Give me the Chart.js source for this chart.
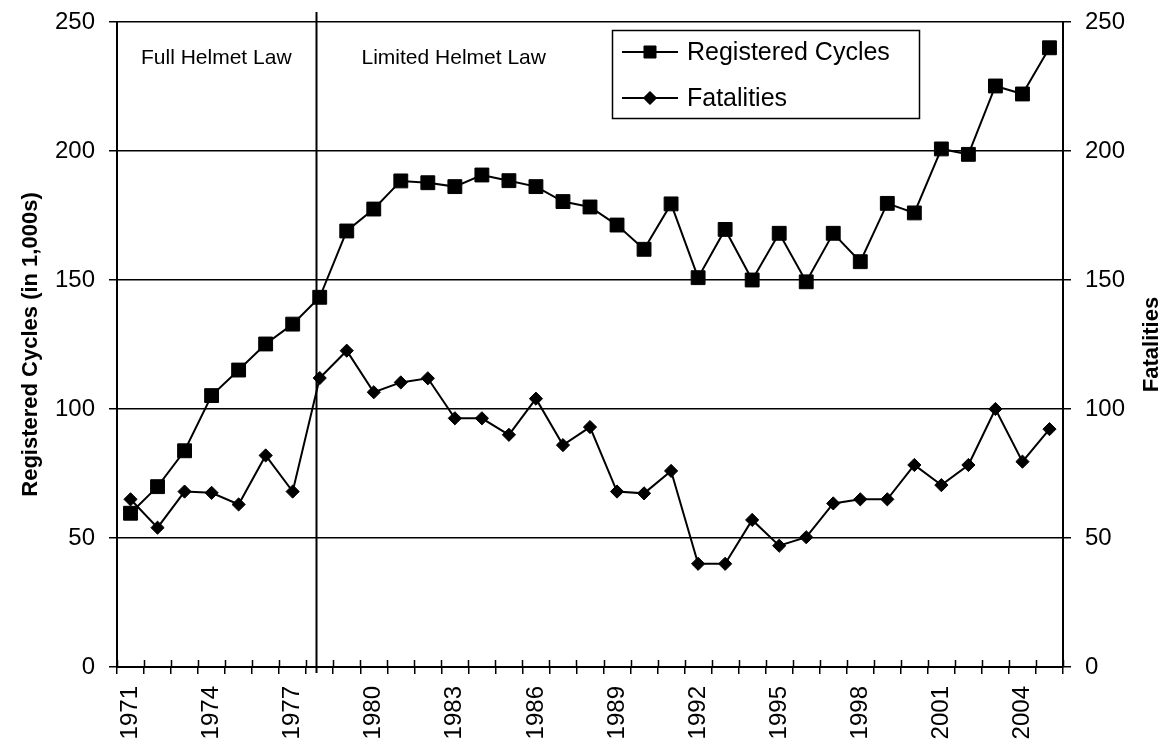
<!DOCTYPE html>
<html lang="en">
<head>
<meta charset="UTF-8">
<title>Registered Cycles and Fatalities</title>
<script src="https://cdn.jsdelivr.net/npm/chart.js@4.4.0/dist/chart.umd.min.js"></script>
<style>
  * { margin:0; padding:0; box-sizing:border-box; }
  body { background:#fff; width:1167px; height:745px; overflow:hidden; }
  #chart { display:block; }
</style>
</head>
<body>
<canvas id="chart" width="1167" height="745"></canvas>

<script>
const years = ['1971','1972','1973','1974','1975','1976','1977','1978','1979','1980',
  '1981','1982','1983','1984','1985','1986','1987','1988','1989','1990',
  '1991','1992','1993','1994','1995','1996','1997','1998','1999','2000',
  '2001','2002','2003','2004','2005'];

// registered cycles, in 1,000s
const cycles = [59.6, 69.9, 83.8, 105.2, 115.1, 125.2, 132.9, 143.3, 169, 177.5,
  188.4, 187.7, 186.2, 190.7, 188.5, 186.2, 180.4, 178.3, 171.3, 161.9,
  179.5, 150.9, 169.6, 150, 168.1, 149.3, 168.1, 157.1, 179.7, 176,
  200.8, 198.7, 225.2, 222.1, 240];

const fatalities = [65, 54, 68, 67.5, 63, 82, 68, 112, 122.6, 106.5,
  110.3, 111.9, 96.4, 96.4, 90, 104, 86, 93, 68, 67.3,
  76, 40, 40, 57, 47, 50.3, 63.4, 65, 65, 78.3,
  70.5, 78.3, 100, 79.6, 92.2];

const yTicks = [0, 50, 100, 150, 200, 250];
const lawChange = 6.88;   // helmet law changed in 1978 (category units)

const FONT = "'Liberation Sans', Arial, sans-serif";

// law labels, divider line, legend box, right axis title
const extras = {
  id: 'extras',
  beforeDatasetsDraw(chart) {
    const { ctx, chartArea: a, scales: { x } } = chart;
    const lx = Math.round(x.getPixelForValue(lawChange)) + 0.5;
    ctx.save();
    ctx.strokeStyle = '#000';
    ctx.lineWidth = 2;
    ctx.beginPath();
    ctx.moveTo(lx, a.top - 10);
    ctx.lineTo(lx, a.bottom + 6);
    ctx.stroke();

    // small tick marks above the category axis
    const step = x.width / years.length;
    ctx.lineWidth = 1.5;
    ctx.beginPath();
    for (let i = 0; i <= years.length; i++) {
      const tx = Math.round(x.left + i * step) + 0.5;
      ctx.moveTo(tx, a.bottom - 7);
      ctx.lineTo(tx, a.bottom);
    }
    ctx.stroke();

    ctx.fillStyle = '#000';
    ctx.font = '21px ' + FONT;
    ctx.textBaseline = 'middle';
    ctx.textAlign = 'left';
    ctx.fillText('Full Helmet Law', a.left + 24, a.top + 36);
    ctx.fillText('Limited Helmet Law', lx + 45, a.top + 36);
    ctx.restore();
  },
  afterDraw(chart) {
    const { ctx } = chart;
    ctx.save();
    // legend
    const bx = 612.5, by = 30.5, bw = 307, bh = 88;
    ctx.fillStyle = '#fff';
    ctx.fillRect(bx, by, bw, bh);
    ctx.strokeStyle = '#000';
    ctx.lineWidth = 1.5;
    ctx.strokeRect(bx, by, bw, bh);

    const rows = [
      { label: 'Registered Cycles', style: 'rect', r: 8.5, y: 52 },
      { label: 'Fatalities', style: 'rectRot', r: 6.5, y: 98 }
    ];
    ctx.font = '25px ' + FONT;
    ctx.textBaseline = 'middle';
    ctx.textAlign = 'left';
    rows.forEach(row => {
      ctx.strokeStyle = '#000';
      ctx.lineWidth = 1.8;
      ctx.beginPath();
      ctx.moveTo(622, row.y);
      ctx.lineTo(678, row.y);
      ctx.stroke();
      ctx.fillStyle = '#000';
      ctx.lineWidth = 1;
      Chart.helpers.drawPoint(ctx, { pointStyle: row.style, radius: row.r, borderWidth: 1, rotation: 0 }, 650, row.y);
      ctx.fill();
      ctx.fillText(row.label, 687, row.y + 1);
    });

    // right axis title, reading bottom to top
    const y1 = chart.scales.y1;
    ctx.translate(1152, (y1.top + y1.bottom) / 2);
    ctx.rotate(-Math.PI / 2);
    ctx.font = 'bold 22px ' + FONT;
    ctx.textAlign = 'center';
    ctx.fillStyle = '#000';
    ctx.fillText('Fatalities', 0, 0);
    ctx.restore();
  }
};

new Chart(document.getElementById('chart').getContext('2d'), {
  type: 'line',
  data: {
    labels: years,
    datasets: [
      {
        label: 'Registered Cycles',
        data: cycles,
        yAxisID: 'y',
        borderColor: '#000',
        backgroundColor: '#000',
        borderWidth: 2,
        pointStyle: 'rect',
        pointRadius: 9.8,
        pointBorderWidth: 1,
        tension: 0
      },
      {
        label: 'Fatalities',
        data: fatalities,
        yAxisID: 'y1',
        borderColor: '#000',
        backgroundColor: '#000',
        borderWidth: 2,
        pointStyle: 'rectRot',
        pointRadius: 6.6,
        pointBorderWidth: 1,
        tension: 0
      }
    ]
  },
  options: {
    responsive: false,
    animation: false,
    devicePixelRatio: 1,
    layout: { padding: { top: 22, left: 0, right: 0, bottom: 0 } },
    plugins: { legend: { display: false }, tooltip: { enabled: false } },
    scales: {
      x: {
        offset: true,
        grid: { offset: true, drawOnChartArea: false, color: '#000', lineWidth: 1.5, tickLength: 7 },
        border: { color: '#000', width: 2 },
        ticks: {
          autoSkip: false, minRotation: 90, maxRotation: 90, padding: 12,
          color: '#000', font: { family: FONT, size: 24 },
          callback(value, index) { return index % 3 === 0 ? years[index] : ''; }
        },
        afterFit(scale) { scale.height = 78; scale.paddingLeft = 0; scale.paddingRight = 0; }
      },
      y: {
        position: 'left', min: 0, max: 250,
        afterBuildTicks(scale) { scale.ticks = yTicks.map(v => ({ value: v })); },
        grid: { color: '#000', lineWidth: 1.5, tickLength: 8 },
        border: { color: '#000', width: 2 },
        ticks: { color: '#000', padding: 14, font: { family: FONT, size: 24 } },
        title: { display: true, text: 'Registered Cycles (in 1,000s)', color: '#000',
          font: { family: FONT, size: 22, weight: 'bold' }, padding: { top: 18, bottom: 0 } },
        afterFit(scale) { scale.width = 117; scale.paddingTop = 0; scale.paddingBottom = 0; }
      },
      y1: {
        position: 'right', min: 0, max: 250,
        afterBuildTicks(scale) { scale.ticks = yTicks.map(v => ({ value: v })); },
        grid: { drawOnChartArea: false, color: '#000', lineWidth: 1.5, tickLength: 8 },
        border: { color: '#000', width: 2 },
        ticks: { color: '#000', padding: 14, font: { family: FONT, size: 24 } },
        afterFit(scale) { scale.width = 104; scale.paddingTop = 0; scale.paddingBottom = 0; }
      }
    }
  },
  plugins: [extras]
});
</script>
</body>
</html>
